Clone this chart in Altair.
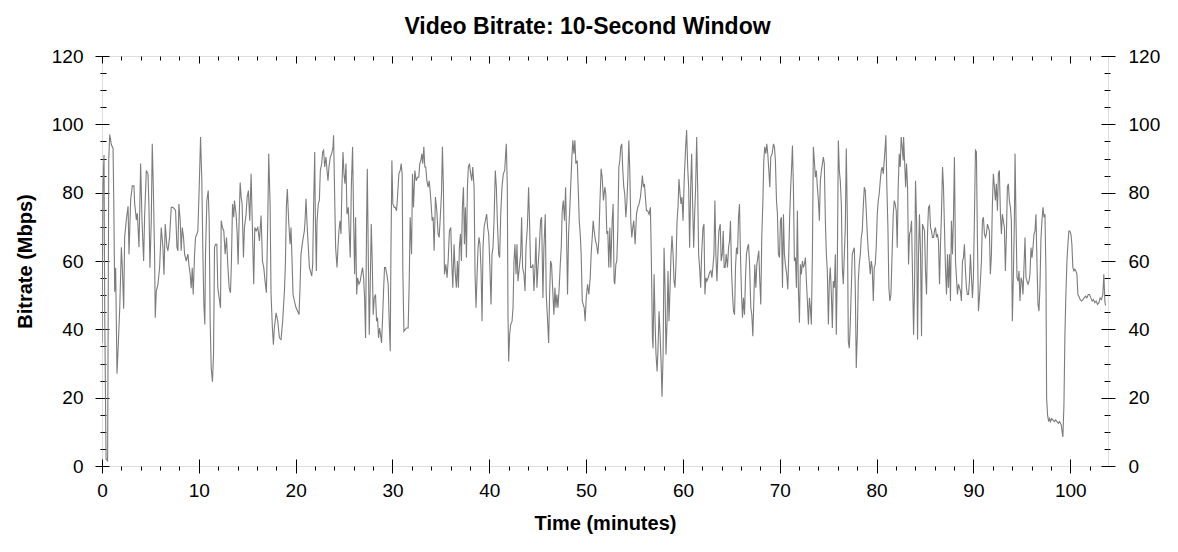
import altair as alt
import pandas as pd

# (minute, Mbps) readings, segment by segment
seg1 = [(0.00,36),(0.10,82),(0.21,91),(0.28,45),(0.42,2),(0.58,1.5),(0.70,90),(0.80,97),(0.97,94),(1.14,93),
(1.21,79),(1.31,51),(1.41,58),(1.55,27),(1.66,34),(1.83,46),(2.00,64),(2.10,58),(2.24,46),(2.34,67),
(2.51,72),(2.69,76),(2.79,62),(2.96,78),(3.13,82),(3.30,82),(3.37,77),(3.55,72),(3.65,74),(3.82,64),
(3.99,88.5),(4.13,72),(4.30,60),(4.40,73),(4.58,86.5),(4.75,85.5),(4.85,75.7),(4.95,58),(5.09,72),(5.19,94.3),
(5.30,81.6),(5.43,62),(5.50,43.4),(5.61,51.2),(5.78,53.2),(5.95,58),(6.12,69.8),(6.29,64),(6.40,56),(6.53,70.8),
(6.71,64),(6.81,63),(6.98,66.9),(7.15,75.7),(7.32,75.7),(7.50,75.2),(7.60,74.7),(7.74,64),(7.84,63),(7.94,76.7),
(8.08,71.8),(8.18,63),(8.29,69.8),(8.42,66.9),(8.53,62),(8.70,60),(8.87,62),(8.97,59),(9.11,56),(9.21,52),
(9.32,58),(9.42,50.2),(9.56,62),(9.66,66.9),(9.80,67.9),(9.90,68.8),(10.04,81.6),(10.18,96.3),(10.31,83.5),(10.42,62),
(10.52,47.3),(10.62,41.4),(10.69,62),(10.83,77.7),(10.97,80.6),(11.07,71.8),(11.17,42.4),(11.28,28.7),(11.41,24.7),(11.52,32.6),
(11.62,63.9),(11.72,64.9),(11.86,64.9),(11.96,52.2),(12.10,49.2),(12.24,46.3),(12.31,71.8),(12.44,69.8),(12.58,68.8),(12.72,62),
(12.86,66.9),(12.99,59),(13.13,52.2),(13.27,50.7),(13.37,60),(13.48,76.7),(13.61,72.8),(13.68,77.7),(13.85,73.7),(13.96,67.9),
(14.06,59),(14.16,71.8),(14.27,83),(14.37,78.7),(14.47,76.7),(14.61,61),(14.71,69.8),(14.88,73.7),(14.99,78.7),(15.12,80.6),
(15.26,71.8),(15.40,85.5),(15.54,68.8),(15.67,53.2),(15.78,69.8),(15.92,68.8),(16.09,69.8),(16.26,65.9),(16.43,73.3),(16.57,60),
(16.71,58),(16.84,54.1),(16.98,50.7),(17.12,71.8),(17.22,91.4),(17.36,76.7),(17.46,50.2),(17.60,40.4),(17.70,35.5),(17.80,40.4),
(17.98,44.8),(18.15,42.4),(18.32,37.5),(18.49,37),(18.66,42.4),(18.84,51.2),(18.94,59),(19.04,75.7),(19.14,81.1),(19.28,71.8),
(19.42,64.9),(19.52,69.8),(19.63,60),(19.73,50.2),(19.87,48.3),(20.04,46.3),(20.21,45.3),(20.35,44.3),(20.45,52.2),(20.55,62),
(20.73,65.9),(20.90,68.8)]

seg2 = [(20.97,71.8),(21.07,78.2),(21.18,70.8),(21.31,63.9),(21.42,58.1),(21.52,57.1),(21.66,55.6),(21.76,59),(21.86,76.7),(21.97,91.9),
(22.03,73.7),(22.14,57.1),(22.21,71.8),(22.34,76.7),(22.45,77.7),(22.55,86.5),(22.69,88.5),(22.79,91.9),(22.89,92.4),(23.00,87.5),
(23.13,90.4),(23.24,86.5),(23.34,83.5),(23.44,87.5),(23.58,90.4),(23.72,91.4),(23.86,93.4),(23.92,96.8),(24.03,78.7),(24.13,63.9),
(24.27,58.1),(24.37,63.9),(24.47,68.8),(24.58,71.8),(24.68,67.9),(24.78,81.6),(24.89,91.9),(24.99,85.5),(25.09,82.6),(25.20,88.5),
(25.30,73.7),(25.44,75.7),(25.54,67.9),(25.64,61),(25.75,81.6),(25.88,93.4),(25.99,71.8),(26.09,56.1),(26.19,72.8),(26.30,50.2),
(26.40,55.1),(26.54,53.2),(26.67,54.1),(26.78,56.1),(26.91,58.1),(27.02,55.1),(27.12,49.2),(27.22,37.5),(27.33,71.8),(27.40,87),
(27.50,62),(27.60,38.4),(27.70,52.2),(27.81,70.8),(27.91,60),(28.01,44.3),(28.12,49.2),(28.25,50.2),(28.36,42.4),(28.46,43.4),
(28.56,37.5),(28.67,40.4),(28.77,38.4),(28.87,36),(28.98,43.4),(29.08,51.2),(29.18,58.1),(29.28,58.1),(29.42,56.1),(29.56,53.2),
(29.66,42.4),(29.77,33.6),(29.84,62),(29.94,89.4),(30.04,76.7),(30.18,75.7),(30.28,75.7),(30.42,74.7),(30.52,78.7),(30.66,85.5),
(30.80,86.5),(30.90,88.5),(31.00,85.5),(31.07,57.1),(31.18,39.4),(31.31,39.9),(31.45,40.4),(31.62,40.4),(31.73,54.1),(31.83,72.8),
(31.97,62),(32.07,85.5),(32.17,75.7),(32.31,86.5),(32.45,83.5),(32.58,84.5),(32.72,84.5),(32.82,88.5),(32.93,89.4),(33.03,91.4),
(33.13,88.5),(33.24,93.4),(33.34,87.5),(33.44,87.5),(33.55,83.5),(33.68,81.6),(33.79,83.5),(33.89,80.6),(33.99,76.7),(34.10,71.8),
(34.20,72.8),(34.30,63),(34.44,78.7),(34.58,74.7),(34.71,67.9),(34.82,66.9),(34.92,71.8),(35.06,79.6),(35.16,93.4),(35.26,81.6),
(35.37,56.1),(35.51,59),(35.64,55.1),(35.75,60),(35.88,68.8),(36.02,69.8),(36.12,60),(36.23,52.2),(36.36,64.9),(36.47,57.1),
(36.60,52.2),(36.71,60),(36.81,52.2),(36.91,63.9),(37.02,67.9),(37.12,60),(37.22,75.7),(37.33,81.6),(37.43,64.9),(37.53,75.7),
(37.64,61),(37.74,81.6),(37.84,87.5),(37.95,88.5),(38.08,85.5),(38.19,83.5),(38.29,87.5),(38.43,81.6),(38.53,56.1),(38.63,46.3),
(38.74,56.1),(38.84,63.9),(38.94,66.9),(39.04,64.9),(39.15,57.1),(39.25,42.4),(39.35,63.9),(39.46,69.8),(39.59,71.8),(39.73,73.7),
(39.83,69.8),(39.94,67.9),(40.04,60),(40.18,47.3),(40.28,62),(40.38,63.9),(40.49,71.8),(40.62,86.5),(40.73,81.6),(40.83,71.8),
(40.97,62),(41.07,61),(41.18,73.7),(41.31,81.6),(41.45,85.5)]

seg3 = [(41.59,86.5),(41.69,91.4),(41.76,94.3),(41.86,81.6),(41.93,44.3),(42.00,30.6),(42.10,38.4),(42.21,41.4),(42.35,42.4),(42.45,46.3),
(42.55,60),(42.65,64.9),(42.76,56.1),(42.86,64.9),(42.96,54.1),(43.10,58.1),(43.24,62),(43.34,72.8),(43.44,58.1),(43.58,56.1),
(43.69,51.2),(43.79,63.9),(43.93,69.8),(44.06,81.6),(44.17,69.8),(44.27,58.1),(44.37,58.1),(44.51,59),(44.61,51.2),(44.72,58.1),
(44.82,66.9),(44.92,52.2),(45.03,58.1),(45.16,63.9),(45.30,71.8),(45.40,72.8),(45.54,49.2),(45.64,63.9),(45.78,73.7),(45.88,50.2),
(45.99,44.3),(46.13,36),(46.23,50.2),(46.33,60),(46.43,59),(46.54,52.2),(46.67,44.3),(46.78,52.2),(46.88,46.3),(46.98,50.2),
(47.09,46.3),(47.22,52.2),(47.33,59),(47.43,63.9),(47.53,74.7),(47.64,77.7),(47.77,71.8),(47.88,81.6),(47.98,67.9),(48.08,50.2),
(48.19,67.9),(48.32,75.7),(48.43,83.5),(48.53,90.4),(48.63,95.3),(48.74,91.4),(48.84,95.3),(48.94,88.5),(49.08,89.4),(49.18,81.6),
(49.29,71.8),(49.39,67.9),(49.49,62),(49.60,48.3),(49.70,47.3),(49.80,46.3),(49.90,42.4),(50.01,49.2),(50.15,53.2),(50.28,50.2),
(50.42,55.1),(50.52,62),(50.63,66.9),(50.73,71.8),(50.83,68.8),(50.97,65.9),(51.07,64.9),(51.21,62),(51.31,65.9),(51.42,76.7),
(51.55,87),(51.66,84.5),(51.79,77.7),(51.93,81.6),(52.03,79.6),(52.14,67.9),(52.24,68.8),(52.34,58.1),(52.45,69.8),(52.55,58.1),
(52.69,71.8),(52.79,76.7),(52.89,54.1),(52.96,53.2),(53.07,59),(53.17,60),(53.27,68.8),(53.38,87.5),(53.48,89.4),(53.58,93.4),
(53.68,94.3),(53.79,86.5),(53.89,81.6),(53.99,79.6),(54.10,72.8),(54.20,76.7),(54.30,83.5),(54.41,95.3),(54.51,86.5),(54.61,71.8),
(54.72,66.9),(54.82,69.8),(54.92,71.8),(55.06,64.9),(55.20,73.7),(55.33,75.7),(55.47,76.7),(55.61,78.7),(55.71,81.6),(55.81,85),
(55.92,81.6),(56.02,82.6),(56.12,78.7),(56.23,74.7),(56.36,74.7),(56.50,73.7),(56.64,75.7),(56.74,60),(56.85,37.5),(56.91,34.5),
(57.02,56.1),(57.12,42.4),(57.22,32.6),(57.33,27.7),(57.43,34.5),(57.53,45.3),(57.64,38.4),(57.74,30.6),(57.84,20.3),(57.95,32.6),
(58.05,63.9),(58.15,52.2),(58.25,32.6),(58.36,42.4),(58.46,57.1),(58.56,42.4),(58.67,52.2),(58.77,62),(58.87,67.4),(58.98,62),
(59.08,54.1),(59.18,52.2),(59.29,60),(59.39,71.8),(59.49,75.7),(59.59,84),(59.70,79.6),(59.80,76.7),(59.90,78.7),(60.01,71.8),
(60.14,84.5),(60.28,93.4),(60.38,98.3),(60.49,87.5),(60.59,81.6),(60.69,63.9),(60.80,81.6),(60.90,91.4),(61.00,76.7),(61.11,63.9),
(61.21,73.7),(61.31,81.6),(61.42,96.3),(61.52,81.6),(61.62,62),(61.72,58.1),(61.83,52.2),(61.93,62),(62.07,69.8)]

seg4 = [(62.17,70.8),(62.27,50.2),(62.37,55.1),(62.47,54.1),(62.61,55.1),(62.75,56.6),(62.89,57.1),(62.99,55.1),(63.09,58.1),(63.20,62),
(63.30,77.7),(63.40,62),(63.51,54.1),(63.61,62),(63.71,68.8),(63.85,70.8),(63.95,60),(64.06,62),(64.16,68.8),(64.26,58.1),
(64.36,58.1),(64.47,62),(64.60,58.1),(64.71,63.9),(64.81,65.9),(64.91,71.8),(65.02,57.1),(65.12,50.2),(65.22,45.3),(65.33,44.3),
(65.43,58.1),(65.53,63.9),(65.64,62),(65.74,72.8),(65.84,76.7),(65.94,62),(66.05,50.2),(66.15,43.4),(66.25,49.2),(66.36,44.3),
(66.46,55.1),(66.56,62),(66.67,63.9),(66.77,64.9),(66.87,60),(67.01,46.3),(67.11,44.3),(67.22,38),(67.32,48.3),(67.42,59),
(67.53,52.2),(67.63,59),(67.73,61),(67.83,63),(67.94,54.1),(68.04,47.3),(68.14,66.9),(68.25,76.7),(68.35,89.4),(68.45,93.4),
(68.56,91.4),(68.66,94.3),(68.76,91.4),(68.87,86.5),(68.97,81.6),(69.07,90.4),(69.21,91.4),(69.35,94.3),(69.45,93.4),(69.55,89.4),
(69.66,77.7),(69.76,73.7),(69.86,62),(69.97,61),(70.07,71.8),(70.17,72.8),(70.28,52.2),(70.38,73.7),(70.48,62),(70.58,59),
(70.72,56.1),(70.83,51.7),(70.93,62),(71.03,73.7),(71.13,81.6),(71.24,88.5),(71.31,93.8),(71.41,81.6),(71.51,60),(71.62,61),
(71.72,52.2),(71.82,74.7),(71.92,52.2),(72.03,41.9),(72.13,59),(72.23,56.1),(72.34,60),(72.44,58.1),(72.54,59),(72.65,61),
(72.75,54.1),(72.85,48.3),(72.96,41.4),(73.06,49.2),(73.16,46.3),(73.26,41.4),(73.37,62),(73.47,93.4),(73.57,89.4),(73.68,84.5),
(73.78,86.5),(73.88,81.6),(73.99,77.7),(74.09,71.8),(74.19,83.5),(74.30,86.5),(74.40,88.5),(74.50,90.4),(74.60,88.5),(74.71,71.8),
(74.81,62),(74.91,57.1),(75.02,41.4),(75.12,54.1),(75.22,58.1),(75.33,50.2),(75.43,40.4),(75.53,54.1),(75.64,52.2),(75.74,62),
(75.84,38.4),(75.94,57.1),(76.05,95.3),(76.15,86.5),(76.25,83.5),(76.36,76.7),(76.46,58.1),(76.56,53.2),(76.67,62),(76.77,69.8),
(76.87,92.9),(76.98,71.8),(77.08,36.5),(77.18,34.5),(77.28,41.4),(77.39,52.2),(77.49,62),(77.59,63),(77.70,63.9),(77.80,52.2),
(77.90,28.7),(78.01,38.4),(78.11,54.1),(78.21,59),(78.32,62),(78.42,66.9),(78.52,68.8),(78.62,75.7),(78.73,81.6),(78.83,80.6),
(78.93,74.7),(79.04,67.9),(79.14,63),(79.24,60),(79.35,56.1),(79.45,60),(79.55,58.1),(79.66,48.3),(79.76,58.1),(79.86,59),
(79.96,63.9),(80.07,73.7),(80.17,77.7),(80.27,79.6),(80.38,83.5),(80.48,86.5),(80.58,87.5),(80.69,85.5),(80.79,89.4),(80.89,93.4),
(80.96,96.8),(81.06,81.6),(81.17,69.8),(81.27,52.2),(81.37,48.3),(81.48,50.2),(81.58,60),(81.72,73.7),(81.82,77.7),(81.92,76.7),
(82.03,74.7),(82.13,63.9),(82.23,81.6),(82.34,91.4),(82.44,87.5),(82.54,96.3),(82.64,93.4),(82.75,89.4)]

seg5 = [(82.79,96.3),(82.89,89.4),(83.00,81.6),(83.09,88.5),(83.20,81.6),(83.30,59),(83.40,67.9),(83.51,68.8),(83.61,71.8),(83.71,56.1),
(83.82,38.4),(83.92,52.2),(84.02,83.5),(84.13,71.8),(84.23,37),(84.33,62),(84.43,73.7),(84.54,62),(84.64,38),(84.74,70.8),
(84.85,69.8),(84.95,68.8),(85.05,57.1),(85.16,50.2),(85.26,67.9),(85.36,75.7),(85.47,76.2),(85.57,69.8),(85.67,68.8),(85.77,66.9),
(85.88,66.9),(85.98,68.8),(86.08,69.8),(86.19,66.9),(86.29,67.9),(86.39,65.9),(86.50,53.2),(86.60,64.9),(86.70,73.7),(86.81,87.5),
(86.91,81.6),(87.01,69.8),(87.11,58.1),(87.22,50.2),(87.32,62),(87.42,52.2),(87.53,62),(87.63,48.3),(87.73,71.8),(87.84,62),
(87.94,72.8),(88.04,90.4),(88.15,60),(88.25,55.1),(88.35,50.2),(88.46,53.2),(88.56,52.2),(88.66,51.2),(88.76,48.3),(88.87,60),
(88.97,61),(89.07,64.9),(89.18,57.1),(89.28,52.2),(89.38,50.2),(89.49,50.2),(89.59,54.1),(89.69,62),(89.80,55.1),(89.90,49.2),
(90.00,55.1),(90.10,71.8),(90.21,92.4),(90.31,91.9),(90.41,66.9),(90.52,45.3),(90.62,49.2),(90.72,54.1),(90.83,60),(90.93,71.8),
(91.03,72.8),(91.14,67.9),(91.24,66.9),(91.34,67.9),(91.45,70.8),(91.55,69.8),(91.65,68.8),(91.75,56.1),(91.86,62),(91.96,76.7),
(92.06,85.5),(92.17,81.6),(92.27,77.7),(92.37,82.6),(92.48,74.7),(92.58,85.5),(92.68,86.5),(92.79,73.7),(92.89,67.9),(92.99,73.7),
(93.09,71.8),(93.20,69.8),(93.30,57.1),(93.40,66.9),(93.51,81.6),(93.61,82.6),(93.71,77.7),(93.82,75.7),(93.92,71.8),(94.02,42.4),
(94.13,56.1),(94.23,71.8),(94.30,91.4),(94.40,71.8),(94.50,55.1),(94.61,54.1),(94.71,57.1),(94.81,48.3),(94.92,55.1),(95.02,54.1),
(95.12,50.2),(95.22,58.1),(95.33,66.9),(95.43,55.1),(95.53,54.1),(95.64,53.2),(95.74,54.1),(95.84,56.1),(95.95,63.9),(96.05,61),
(96.15,63.9),(96.26,67.9),(96.36,68.8),(96.46,73.7),(96.56,60),(96.67,47.3),(96.77,45.3),(96.87,52.2),(96.98,66.9),(97.08,71.8),
(97.18,75.7),(97.29,72.8),(97.39,73.7),(97.49,57.1),(97.56,19.8),(97.66,14.9),(97.77,13),(97.87,13.9),(97.97,13),(98.08,13.9),
(98.21,13.5),(98.35,13),(98.49,13.5),(98.63,13),(98.76,12.5),(98.90,13),(99.07,12),(99.24,8.5),(99.35,17.9),(99.45,38.4),
(99.55,50.2),(99.66,60),(99.76,64.9),(99.86,68.8),(99.96,68.8),(100.07,67.9),(100.17,64.9),(100.27,58.1),(100.38,57.1),(100.48,57.6),
(100.58,57.1),(100.69,56.1),(100.79,50.2),(100.89,49.7),(101.03,48.7),(101.17,48.3),(101.31,48.7),(101.44,49.2),(101.58,49.7),(101.72,49.2),
(101.86,50.2),(101.99,50.2),(102.13,49.2),(102.27,48.3),(102.41,48.7),(102.54,47.8),(102.68,48.3),(102.82,47.3),(102.96,47.8),(103.09,49.2),
(103.23,48.7),(103.37,50.2),(103.47,56.1),(103.58,48),(103.65,47)]

x_major = list(range(0, 101, 10))
x_minor = list(range(0, 103, 2))
y_major = list(range(0, 121, 20))
y_minor = list(range(0, 121, 5))

rows = seg1 + seg2 + seg3 + seg4 + seg5
df = pd.DataFrame(rows, columns=["t", "v"])

FONT = "Liberation Sans"
xs = alt.Scale(domain=[0, 103.9], nice=False, zero=False)
ys = alt.Scale(domain=[0, 120], nice=False)

def ax(orient, values, size, offset=0, labels=False, title=None, pad=0, tpad=0):
    kw = dict(orient=orient, values=values, tickSize=size, offset=offset,
              labels=labels, domain=False, grid=False, ticks=True,
              tickColor="black", tickWidth=1, title=title)
    if labels:
        kw.update(labelFont=FONT, labelFontSize=19, labelColor="black",
                  labelPadding=pad, labelFlush=False, labelOverlap=False)
    if title:
        kw.update(titleFont=FONT, titleFontSize=20, titleFontWeight="bold",
                  titleColor="black", titlePadding=tpad)
    return alt.Axis(**kw)

x_axes = [
    ax("bottom", x_major, 7, labels=True, title="Time (minutes)", pad=8, tpad=13),
    ax("bottom", x_major, 7, offset=-7),
    ax("bottom", x_minor, 4),
    ax("top", x_minor, 4, offset=-4),
    ax("top", x_major, 7, offset=-7),
]
y_axes = [
    ax("left", y_major, 7, labels=True, title="Bitrate (Mbps)", pad=12, tpad=16),
    ax("left", y_major, 7, offset=-7),
    ax("left", y_minor, 4, offset=-4),
    ax("left", y_minor, 2),
    ax("right", y_major, 7, labels=True, pad=13),
    ax("right", y_major, 7, offset=-7),
    ax("right", y_minor, 4, offset=-4),
    ax("right", y_minor, 2),
]

base = alt.Chart(df)
layers = []
n = max(len(x_axes), len(y_axes))
for i in range(n):
    xa = x_axes[i] if i < len(x_axes) else None
    ya = y_axes[i] if i < len(y_axes) else None
    if i == 0:
        mark = base.mark_line(color="#7c7c7c", strokeWidth=1.1, clip=True)
    else:
        mark = base.mark_line(strokeOpacity=0)
    layers.append(mark.encode(
        x=alt.X("t:Q", scale=xs, axis=xa),
        y=alt.Y("v:Q", scale=ys, axis=ya),
    ))

chart = alt.layer(*layers[1:], layers[0]).resolve_axis(
    x="independent", y="independent"
).properties(
    width=1006,
    height=410,
    autosize=alt.AutoSizeParams(type="none"),
    padding={"left": 94, "top": 48, "right": 62, "bottom": 78},
    title=alt.TitleParams(
        "Video Bitrate: 10-Second Window",
        font=FONT, fontSize=23, fontWeight="bold", color="black",
        anchor="middle", frame="bounds", baseline="alphabetic", offset=13, dy=23,
    ),
).configure_view(stroke="black", strokeWidth=1).configure(background="white")

chart.save("out.html", embed_options={"renderer": "svg", "actions": False})
